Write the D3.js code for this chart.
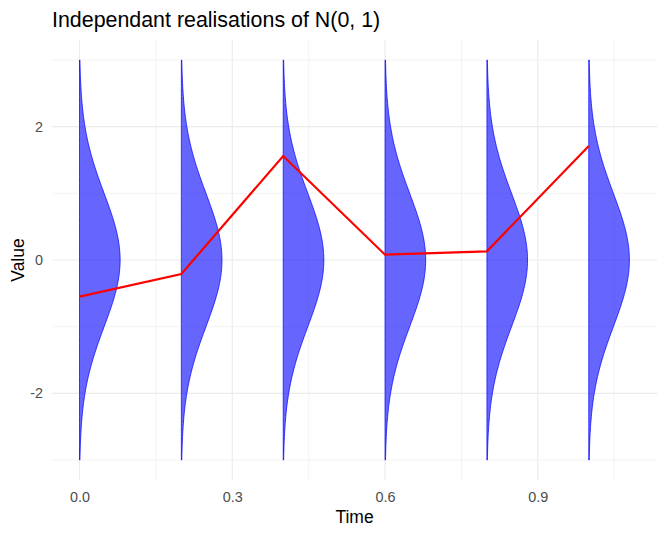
<!DOCTYPE html>
<html>
<head>
<meta charset="utf-8">
<script src="https://cdn.jsdelivr.net/npm/d3@7"></script>
<style>
  body { margin: 0; background: #fff; }
  text { font-family: "Liberation Sans", Arial, sans-serif; }
</style>
</head>
<body>
<div id="chart"></div>
<script>
// observation times and realised values (red line)
const times = [0, 0.2, 0.4, 0.6, 0.8, 1.0];
const values = [-0.55, -0.21, 1.56, 0.08, 0.13, 1.71];

// tick labels
const xTicks = [0, 0.3, 0.6, 0.9];
const xMinor = [0.15, 0.45, 0.75, 1.05];
const yTicks = [-2, 0, 2];
const yMinor = [-3, -1, 1, 3];

// grid of y values where each N(0,1) density is drawn
const yGrid = d3.range(-3, 3.0001, 0.05);
const densityScale = 0.2;

const width = 665, height = 536;
const margin = {top: 40, right: 8, bottom: 56, left: 52};

const svg = d3.select("#chart").append("svg")
    .attr("width", width)
    .attr("height", height);

const x = d3.scaleLinear()
    .domain([-0.054, 1.134])
    .range([margin.left, width - margin.right]);

const y = d3.scaleLinear()
    .domain([-3.3, 3.3])
    .range([height - margin.bottom, margin.top]);

// gridlines
const grid = svg.append("g");
grid.selectAll(".vminor").data(xMinor).enter().append("line")
    .attr("x1", d => x(d)).attr("x2", d => x(d))
    .attr("y1", y.range()[0]).attr("y2", y.range()[1])
    .attr("stroke", "#ebebeb").attr("stroke-width", 0.6);
grid.selectAll(".hminor").data(yMinor).enter().append("line")
    .attr("y1", d => y(d)).attr("y2", d => y(d))
    .attr("x1", x.range()[0]).attr("x2", x.range()[1])
    .attr("stroke", "#ebebeb").attr("stroke-width", 0.6);
grid.selectAll(".vmajor").data(xTicks).enter().append("line")
    .attr("x1", d => x(d)).attr("x2", d => x(d))
    .attr("y1", y.range()[0]).attr("y2", y.range()[1])
    .attr("stroke", "#ebebeb").attr("stroke-width", 1.1);
grid.selectAll(".hmajor").data(yTicks).enter().append("line")
    .attr("y1", d => y(d)).attr("y2", d => y(d))
    .attr("x1", x.range()[0]).attr("x2", x.range()[1])
    .attr("stroke", "#ebebeb").attr("stroke-width", 1.1);

// normal density
function dnorm(v) { return Math.exp(-v * v / 2) / Math.sqrt(2 * Math.PI); }

const area = d3.area()
    .y(d => y(d.v))
    .x0(d => x(d.t))
    .x1(d => x(d.t + densityScale * dnorm(d.v)));

svg.selectAll(".dens").data(times).enter().append("path")
    .attr("d", t => area(yGrid.map(v => ({t: t, v: v}))))
    .attr("fill", "rgba(0,0,255,0.6)")
    .attr("stroke", "#0000ff")
    .attr("stroke-width", 0.7);

// realised path
const line = d3.line()
    .x((d, i) => x(times[i]))
    .y(d => y(d));

svg.append("path")
    .datum(values)
    .attr("d", line)
    .attr("fill", "none")
    .attr("stroke", "#ff0000")
    .attr("stroke-width", 2.2);

// axes
const xAxis = svg.append("g")
    .attr("transform", "translate(0," + (height - margin.bottom) + ")")
    .call(d3.axisBottom(x).tickValues(xTicks).tickFormat(d3.format(".1f")).tickSize(0).tickPadding(12));
const yAxis = svg.append("g")
    .attr("transform", "translate(" + margin.left + ",0)")
    .call(d3.axisLeft(y).tickValues(yTicks).tickFormat(d => d < 0 ? "-" + Math.abs(d) : d).tickSize(0).tickPadding(9));
[xAxis, yAxis].forEach(a => {
  a.select(".domain").remove();
  a.selectAll("text").attr("fill", "#4d4d4d").style("font-size", "14.4px")
    .style("font-family", "'Liberation Sans', Arial, sans-serif");
});

// titles
svg.append("text")
    .attr("x", 52).attr("y", 27)
    .style("font-size", "21.4px")
    .attr("fill", "#000")
    .text("Independant realisations of N(0, 1)");

svg.append("text")
    .attr("x", x.range()[0] + (x.range()[1] - x.range()[0]) / 2)
    .attr("y", 523)
    .attr("text-anchor", "middle")
    .style("font-size", "17.5px")
    .text("Time");

svg.append("text")
    .attr("transform", "translate(24," + y(0) + ") rotate(-90)")
    .attr("text-anchor", "middle")
    .style("font-size", "17.5px")
    .text("Value");
</script>
</body>
</html>
